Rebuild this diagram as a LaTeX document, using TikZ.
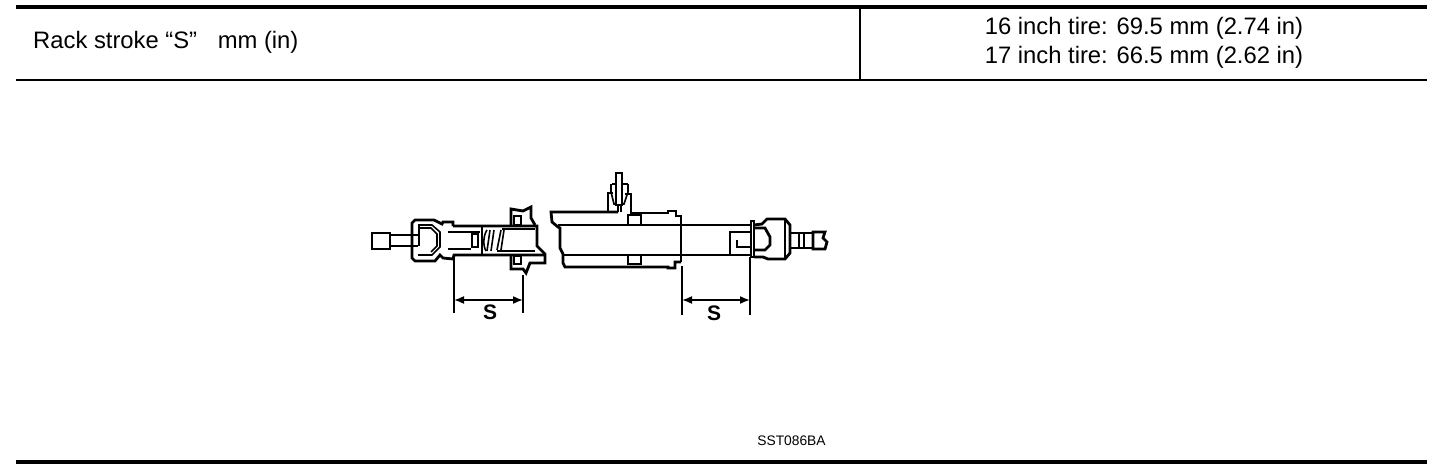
\documentclass[tikz,border=0pt]{standalone}
\usepackage{fontspec}
\setmainfont{Liberation Sans}
\usetikzlibrary{arrows.meta}
\tikzset{
  rule/.style={line width=2.2pt,black},
  heavy/.style={line width=4.5pt,black},
  part/.style={line width=2.8pt,black,line join=miter},
  fine/.style={line width=1.6pt,black},
  dimline/.style={line width=1.6pt,black,{Latex[length=10pt,width=8pt]}-{Latex[length=10pt,width=8pt]}},
  extline/.style={line width=2.4pt,black},
  tabletext/.style={font=\fontsize{23.8}{29.5}\selectfont,inner sep=0pt,align=center},
  dimtext/.style={font=\fontsize{21}{24}\bfseries\selectfont,inner sep=0pt},
}
\begin{document}
\begin{tikzpicture}[x=1pt,y=-1pt]
\useasboundingbox (0,0) rectangle (1456,476);
% table
\coordinate (tl) at (16,7); \coordinate (tr) at (1427,7);
\coordinate (ml) at (16,80); \coordinate (mr) at (1427,80);
\coordinate (bl) at (16,462); \coordinate (br) at (1427,462);
\coordinate (vt) at (860,7); \coordinate (vb) at (860,80);
\draw[heavy] (tl) -- (tr);
\draw[rule] (ml) -- (mr);
\draw[heavy] (bl) -- (br);
\draw[rule] (vt) -- (vb);
\node[tabletext,anchor=west] (rack) at (33,42) {Rack stroke “S”\hspace{14pt} mm (in)};
\node[tabletext] (tire) at (1144,43) {16 inch tire: 69.5 mm (2.74 in)\\17 inch tire: 66.5 mm (2.62 in)};
\node[font=\fontsize{13.8}{16}\selectfont,inner sep=0pt] (code) at (791.5,441) {SST086BA};
% left assembly
\draw[part] (372,233) rectangle (390,249);
\draw[fine] (391,235) -- (418,235) (391,246) -- (418,246);
\draw[part] (419,225) -- (419,246);
\draw[part] (453,226) -- (453,222) -- (443,222) -- (442,224) -- (434,220) -- (415,220) -- (412,223) -- (412,258) -- (415,261) -- (435,261) -- (440,255) -- (443,258) -- (453,259) -- (454,255) -- (545,255);
\draw[part] (453,226) -- (537,226) -- (537,246) -- (545,254) -- (545,263) -- (530,263) -- (526,273) -- (523,269) -- (511,269) -- (511,255);
\draw[part] (511,226) -- (511,209) -- (523,211) -- (531,207) -- (531,218) -- (535,225);
\draw[part] (514,216) rectangle (521,225);
\draw[part] (514,256) rectangle (521,264);
\draw[part] (482,226) -- (482,255);
% yoke
\draw[fine] (418,225) -- (432,225) -- (440,232) -- (440,247) -- (432,255) -- (418,255);
\draw[fine] (418,228) -- (431,228) -- (437,234) -- (437,246) -- (431,252);
% neck
\draw[part] (448,232) -- (480,232);
\draw[fine] (448,249) -- (471,249);
\draw[part] (472,234) rectangle (478,247);
% spring and thread
\draw[fine] (487,230) .. controls (483,236) and (483,246) .. (486,251);
\draw[fine] (490,230) -- (487,251);
\draw[fine] (494,230) -- (491,251);
\draw[fine] (501,230) -- (497,250);
\draw[fine] (504,230) -- (501,250);
\draw[fine] (502,229) -- (535,229);
\draw[fine] (497,251) -- (535,251);
% left dimension
\coordinate (la) at (454,255); \coordinate (lb) at (454,313);
\coordinate (ra) at (523,275); \coordinate (rb) at (523,313);
\draw[extline] (la) -- (lb);
\draw[extline] (ra) -- (rb);
\coordinate (lm) at (454,300); \coordinate (rm) at (523,300);
\draw[dimline] (lm) -- (rm);
\node[dimtext] (s1) at (490,312) {S};
% middle housing
\draw[part] (618,212) -- (551,212) -- (552,222) -- (558,227) -- (560,228) -- (560,248) -- (563,254) -- (563,263) -- (565,267) -- (668,267) -- (668,268) -- (675,268) -- (675,262) -- (681,262);
\draw[part] (630,213) -- (668,213) -- (668,211) -- (676,211) -- (676,216) -- (681,216) -- (681,262);
\draw[part] (558,225) -- (750,225);
\draw[part] (563,255) -- (750,255);
\draw[part] (628,225) -- (628,215) -- (641,215) -- (641,225);
\draw[part] (628,256) -- (628,264) -- (641,264) -- (641,256);
% top fitting
\draw[part] (616,173) rectangle (622,205);
\draw[part] (618,205) -- (618,212) (621,205) -- (621,212);
\draw[fine] (612,184) -- (616,184) (622,184) -- (628,184);
\draw[fine] (611,184) -- (611,192) -- (614,204) -- (616,204);
\draw[fine] (628,184) -- (628,192) -- (624,204) -- (622,204);
\draw[fine] (608,212) -- (608,193) -- (613,193);
\draw[fine] (631,212) -- (631,194) -- (625,194);
% right end
\draw[part] (730,255) -- (730,232) -- (751,232);
\draw[part] (737,240) -- (737,247) -- (750,247);
\draw[part] (751,221) rectangle (754,257);
\draw[part] (754,228) -- (765,228) -- (770,237) -- (770,245) -- (765,250) -- (754,250);
\draw[part] (754,225) -- (762,224) -- (767,219) -- (785,219) -- (790,225) -- (790,253) -- (785,259) -- (768,259) -- (763,257) -- (754,257);
\draw[part] (785,219) -- (785,259);
\draw[fine] (790,233) -- (813,233) (790,248) -- (813,248);
\draw[part] (799,233) -- (799,248) (804,233) -- (804,248);
\draw[part] (813,232) -- (825,232) -- (823,238) -- (827,242) -- (825,249) -- (813,249) -- cycle;
% right dimension
\coordinate (la2) at (682,266); \coordinate (lb2) at (682,315);
\coordinate (ra2) at (750,257); \coordinate (rb2) at (750,315);
\draw[extline] (la2) -- (lb2);
\draw[fine] (ra2) -- (rb2);
\coordinate (lm2) at (682,300); \coordinate (rm2) at (750,300);
\draw[dimline] (lm2) -- (rm2);
\node[dimtext] (s2) at (714,313) {S};
\end{tikzpicture}
\end{document}
